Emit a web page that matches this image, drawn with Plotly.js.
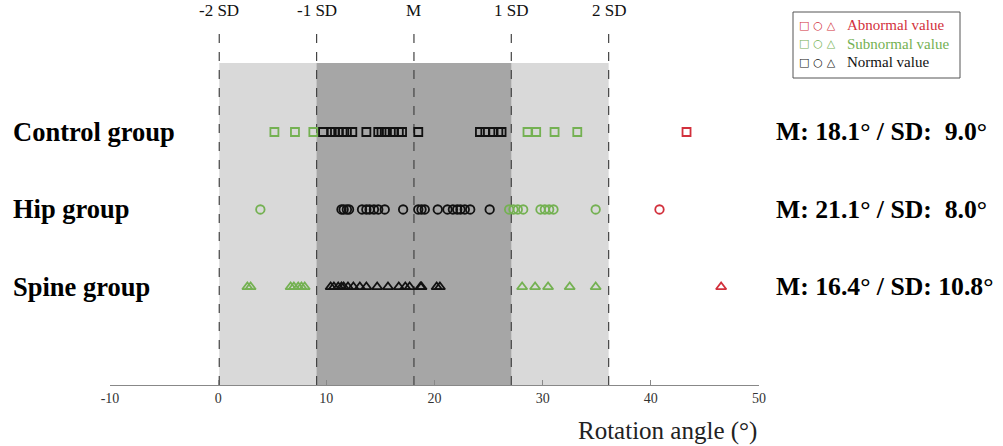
<!DOCTYPE html>
<html><head><meta charset="utf-8">
<script src="https://cdn.plot.ly/plotly-3.0.1.min.js"></script>
<style>html,body{margin:0;padding:0;background:#fff}#chart{width:1003px;height:446px}</style>
</head><body><div id="chart"></div>
<script>
const groups = ["Control group", "Hip group", "Spine group"];
const groupY = [3, 2, 1];
const means = [18.1, 21.1, 16.4];
const sds = [9.0, 8.0, 10.8];
const refMean = 18.1;
const refSD = 9.0;
const sdLabels = ["-2 SD", "-1 SD", "M", "1 SD", "2 SD"];
const sdMult = [-2, -1, 0, 1, 2];
const xTicks = [-10, 0, 10, 20, 30, 40, 50];

const ctrlNormal = [9.7,10.5,10.8,11.1,11.5,11.9,12.4,13.7,14.8,15.1,15.4,15.6,16.2,16.7,17.0,18.5,24.2,24.7,25.4,25.9,26.2];
const ctrlSub = [5.2,7.1,8.8,28.6,29.4,31.1,33.2];
const ctrlAbn = [43.3];
const hipNormal = [11.4,11.6,11.9,12.1,13.3,13.7,14.0,14.4,14.8,15.4,17.1,18.5,18.8,19.1,20.3,21.2,21.7,22.1,22.4,22.8,23.3,25.1];
const hipSub = [3.9,26.9,27.3,27.7,28.2,29.8,30.2,30.6,31.0,34.9];
const hipAbn = [40.8];
const spineNormal = [10.4,10.7,11.1,11.4,11.6,12.0,12.5,13.1,13.7,14.7,15.7,16.7,17.3,17.7,18.7,18.8,20.2,20.5];
const spineSub = [2.7,3.0,6.7,7.0,7.4,7.7,8.0,28.1,29.3,30.5,32.5,34.9];
const spineAbn = [46.5];

const RED = "#d2303c", GREEN = "#74b152", BLACK = "#111111";
const SERIF = "Liberation Serif, Times New Roman, serif";

function tr(xs, yv, sym, col, size) {
  return {x: xs, y: xs.map(() => yv), type: "scatter", mode: "markers", showlegend: false, hoverinfo: "skip",
    marker: {symbol: sym, size: size, color: col, line: {color: col, width: 1.8}}};
}
const data = [
  tr(ctrlSub, groupY[0], "square-open", GREEN, 8),
  tr(ctrlNormal, groupY[0], "square-open", BLACK, 8),
  tr(ctrlAbn, groupY[0], "square-open", RED, 8),
  tr(hipSub, groupY[1], "circle-open", GREEN, 8.5),
  tr(hipNormal, groupY[1], "circle-open", BLACK, 8.5),
  tr(hipAbn, groupY[1], "circle-open", RED, 8.5),
  tr(spineSub, groupY[2], "triangle-up-open", GREEN, 9),
  tr(spineNormal, groupY[2], "triangle-up-open", BLACK, 9),
  tr(spineAbn, groupY[2], "triangle-up-open", RED, 9)
];

const bounds = sdMult.map(m => refMean + m * refSD);
const shapes = [
  {type: "rect", xref: "x", yref: "paper", x0: bounds[0], x1: bounds[4], y0: 0, y1: 0.902, fillcolor: "#d9d9d9", line: {width: 0}, layer: "below"},
  {type: "rect", xref: "x", yref: "paper", x0: bounds[1], x1: bounds[3], y0: 0, y1: 0.902, fillcolor: "#a6a6a6", line: {width: 0}, layer: "below"}
];
bounds.forEach(b => shapes.push({type: "line", xref: "x", yref: "paper", x0: b, x1: b, y0: 0, y1: 1, line: {color: "#444", width: 1.2, dash: "dash"}, layer: "below"}));
shapes.push({type: "rect", xref: "paper", yref: "paper", x0: (793-110)/649, x1: (960-110)/649, y0: (385-78)/357, y1: (385-12)/357, line: {color: "#555", width: 1}, fillcolor: "rgba(0,0,0,0)"});

const annotations = [];
sdLabels.forEach((t, i) => annotations.push({xref: "x", yref: "paper", x: bounds[i], y: 1, yshift: 6, yanchor: "bottom", text: t, showarrow: false, font: {family: SERIF, size: 17, color: "#111"}}));
groups.forEach((g, i) => {
  annotations.push({xref: "paper", yref: "y", x: (11-110)/649, y: groupY[i], xanchor: "left", text: "<b>" + g + "</b>", showarrow: false, font: {family: SERIF, size: 26.5, color: "#000"}});
  const sdTxt = (sds[i] < 10 ? "\u00a0\u00a0" : "\u00a0") + sds[i].toFixed(1);
  annotations.push({xref: "paper", yref: "y", x: (774-110)/649, y: groupY[i], xanchor: "left", text: "<b>M: " + means[i].toFixed(1) + "\u00b0 / SD:" + sdTxt + "\u00b0</b>", showarrow: false, font: {family: SERIF, size: 25.7, color: "#000"}});
});
annotations.push({xref: "paper", yref: "paper", x: 1, y: 0, yshift: -62, xanchor: "right", yanchor: "bottom", text: "Rotation angle (\u00b0)", showarrow: false, font: {family: SERIF, size: 25, color: "#222"}});
const legendItems = [["Abnormal value", RED], ["Subnormal value", GREEN], ["Normal value", BLACK]];
legendItems.forEach((it, i) => {
  const py = [25, 44, 62][i];
  annotations.push({xref: "paper", yref: "paper", x: (797-110)/649, y: (385-py)/357, xanchor: "left", yanchor: "middle",
    text: "<b>\u25a1 \u25cb \u25b3</b>", showarrow: false, font: {family: "DejaVu Sans", size: 11, color: it[1]}});
  annotations.push({xref: "paper", yref: "paper", x: (845-110)/649, y: (385-py)/357, xanchor: "left", yanchor: "middle",
    text: it[0], showarrow: false, font: {family: SERIF, size: 15, color: it[1]}});
});

const layout = {
  width: 1003, height: 446,
  margin: {l: 110, r: 244, t: 28, b: 61},
  paper_bgcolor: "#fff", plot_bgcolor: "rgba(0,0,0,0)",
  showlegend: false,
  xaxis: {range: [-10, 50], tickvals: xTicks, ticktext: xTicks.map(String), showgrid: false, zeroline: false,
    showline: true, linecolor: "#888", linewidth: 1.2, ticks: "inside", ticklen: 5, tickcolor: "#888",
    tickfont: {family: SERIF, size: 14, color: "#333"}, fixedrange: true},
  yaxis: {range: [-0.265, 4.342], showgrid: false, zeroline: false, showline: false, showticklabels: false, ticks: "", fixedrange: true},
  shapes: shapes, annotations: annotations
};
Plotly.newPlot("chart", data, layout, {displayModeBar: false, staticPlot: true});
</script></body></html>
